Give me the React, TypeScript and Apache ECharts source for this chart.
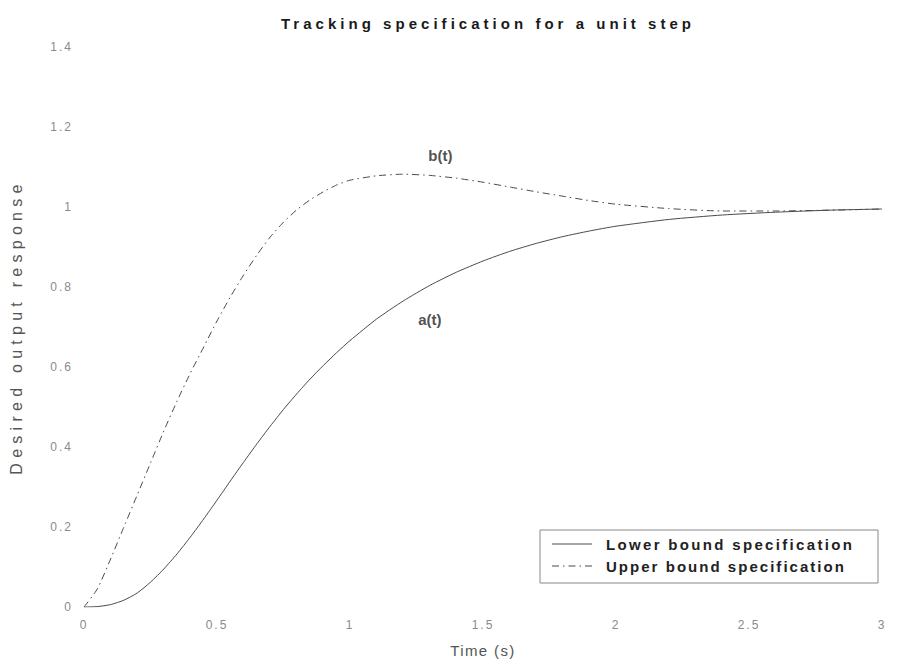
import React, { useEffect, useRef } from "react";
import * as echarts from "echarts";

const timeLower = [0, 0.05, 0.1, 0.15, 0.2, 0.25, 0.3, 0.35, 0.4, 0.45, 0.5, 0.55, 0.6, 0.65, 0.7, 0.75, 0.8, 0.85, 0.9, 0.95, 1.0, 1.1, 1.2, 1.3, 1.4, 1.5, 1.6, 1.7, 1.8, 1.9, 2.0, 2.2, 2.4, 2.6, 2.8, 3.0];
const lowerBound = [0, 0.001, 0.006, 0.017, 0.035, 0.062, 0.095, 0.133, 0.175, 0.22, 0.267, 0.315, 0.362, 0.408, 0.452, 0.494, 0.533, 0.57, 0.604, 0.636, 0.666, 0.72, 0.765, 0.804, 0.837, 0.865, 0.889, 0.909, 0.926, 0.94, 0.952, 0.969, 0.98, 0.987, 0.992, 0.995];

const timeUpper = [0, 0.05, 0.1, 0.15, 0.2, 0.25, 0.3, 0.35, 0.4, 0.45, 0.5, 0.55, 0.6, 0.65, 0.7, 0.75, 0.8, 0.85, 0.9, 0.95, 1.0, 1.1, 1.2, 1.3, 1.4, 1.5, 1.6, 1.7, 1.8, 1.9, 2.0, 2.2, 2.4, 2.6, 2.8, 3.0];
const upperBound = [0, 0.045, 0.12, 0.2, 0.28, 0.36, 0.44, 0.515, 0.585, 0.65, 0.715, 0.775, 0.83, 0.88, 0.925, 0.962, 0.993, 1.018, 1.038, 1.055, 1.067, 1.078, 1.082, 1.079, 1.072, 1.062, 1.05, 1.038, 1.027, 1.016, 1.007, 0.996, 0.99, 0.99, 0.992, 0.995];

const annotationNames = ["b(t)", "a(t)"];
const annotationX = [1.34, 1.3];
const annotationY = [1.13, 0.72];

const xTicks = [0, 0.5, 1, 1.5, 2, 2.5, 3];
const yTicks = [0, 0.2, 0.4, 0.6, 0.8, 1, 1.2, 1.4];

const seriesNames = ["Lower bound specification", "Upper bound specification"];
const titleText = "Tracking specification for a unit step";
const xName = "Time (s)";
const yName = "Desired output response";

// target rendered widths (px) used to emulate the wide letter spacing of the original
const textWidths: Record<string, number> = {
  [titleText]: 410,
  [xName]: 64,
  [yName]: 290,
  [seriesNames[0]]: 246,
  [seriesNames[1]]: 238,
};

export default function App() {
  const ref = useRef<HTMLDivElement>(null);
  useEffect(() => {
    if (!ref.current) return;
    const chart = echarts.init(ref.current, undefined, { renderer: "svg" });
    const font = "'Liberation Sans', Arial, sans-serif";
    const lineColor = "#4a4a4a";
    chart.setOption({
      animation: false,
      backgroundColor: "#ffffff",
      title: {
        text: titleText,
        left: 483,
        top: 11,
        textAlign: "center",
        textStyle: { fontFamily: font, fontSize: 15, fontWeight: "bold", color: "#1a1a1a" },
      },
      grid: { left: 84, right: 18, top: 47, bottom: 63, containLabel: false },
      xAxis: {
        type: "value",
        min: 0,
        max: 3,
        interval: 0.5,
        name: xName,
        nameLocation: "middle",
        nameGap: 36,
        nameTextStyle: { fontFamily: font, fontSize: 15, color: "#555" },
        axisLine: { show: false },
        axisTick: { show: false },
        splitLine: { show: false },
        axisLabel: {
          fontFamily: font,
          fontSize: 12,
          color: "#8a8a8a",
          margin: 12,
          formatter: (v: number) => {
            const t = xTicks.find((x) => Math.abs(x - v) < 1e-6);
            return t === undefined ? "" : String(t);
          },
        },
      },
      yAxis: {
        type: "value",
        min: 0,
        max: 1.4,
        interval: 0.2,
        name: yName,
        nameLocation: "middle",
        nameGap: 60,
        nameTextStyle: { fontFamily: font, fontSize: 16, color: "#555" },
        axisLine: { show: false },
        axisTick: { show: false },
        splitLine: { show: false },
        axisLabel: {
          fontFamily: font,
          fontSize: 12,
          color: "#8a8a8a",
          margin: 11,
          formatter: (v: number) => {
            const t = yTicks.find((y) => Math.abs(y - v) < 1e-6);
            return t === undefined ? "" : String(t);
          },
        },
      },
      graphic: [
        {
          type: "rect",
          shape: { x: 540, y: 530, width: 338, height: 53 },
          style: { fill: "#fff", stroke: "#888", lineWidth: 1 },
          z: 10,
        },
        {
          type: "line",
          shape: { x1: 552, y1: 544, x2: 592, y2: 544 },
          style: { stroke: lineColor, lineWidth: 1 },
          z: 11,
        },
        {
          type: "line",
          shape: { x1: 552, y1: 566, x2: 592, y2: 566 },
          style: { stroke: lineColor, lineWidth: 1, lineDash: [7, 4, 1.5, 4] },
          z: 11,
        },
        {
          type: "text",
          x: 606,
          y: 544,
          style: { text: seriesNames[0], fontFamily: font, fontSize: 15, fontWeight: "bold", fill: "#222", textVerticalAlign: "middle", verticalAlign: "middle" },
          z: 11,
        },
        {
          type: "text",
          x: 606,
          y: 566,
          style: { text: seriesNames[1], fontFamily: font, fontSize: 15, fontWeight: "bold", fill: "#222", textVerticalAlign: "middle", verticalAlign: "middle" },
          z: 11,
        },
      ],
      series: [
        {
          name: seriesNames[0],
          type: "line",
          symbol: "none",
          smooth: 0.2,
          data: timeLower.map((t, i) => [t, lowerBound[i]]),
          lineStyle: { color: lineColor, width: 1 },
          itemStyle: { color: lineColor },
        },
        {
          name: seriesNames[1],
          type: "line",
          symbol: "none",
          smooth: 0.2,
          data: timeUpper.map((t, i) => [t, upperBound[i]]),
          lineStyle: { color: lineColor, width: 1, type: [7, 4, 1.5, 4] },
          itemStyle: { color: lineColor },
        },
        {
          type: "scatter",
          symbolSize: 0,
          silent: true,
          data: annotationNames.map((n, i) => ({ name: n, value: [annotationX[i], annotationY[i]] })),
          label: {
            show: true,
            position: "inside",
            formatter: (p: any) => p.name,
            fontFamily: font,
            fontSize: 15,
            fontWeight: "bold",
            color: "#222",
          },
        },
      ],
    });

    const tickSet = new Set([...xTicks, ...yTicks].map((v) => String(v)));
    const applySpacing = () => {
      if (!ref.current) return;
      const texts = ref.current.querySelectorAll("text");
      texts.forEach((el) => {
        const t = el as SVGTextElement;
        if (t.getAttribute("data-ls")) return;
        const s = t.textContent || "";
        const target = textWidths[s];
        if (target) {
          const w = t.getComputedTextLength();
          const ls = Math.max(0, (target - w) / Math.max(1, s.length - 1));
          t.style.letterSpacing = ls.toFixed(2) + "px";
          t.setAttribute("data-ls", "1");
        } else if (tickSet.has(s)) {
          t.style.letterSpacing = "2px";
          t.setAttribute("data-ls", "1");
        }
      });
    };
    applySpacing();
    const raf = requestAnimationFrame(applySpacing);
    chart.on("finished", applySpacing);
    return () => {
      cancelAnimationFrame(raf);
      chart.dispose();
    };
  }, []);
  return <div ref={ref} style={{ width: 900, height: 670, position: "absolute", left: 0, top: 0 }} />;
}
